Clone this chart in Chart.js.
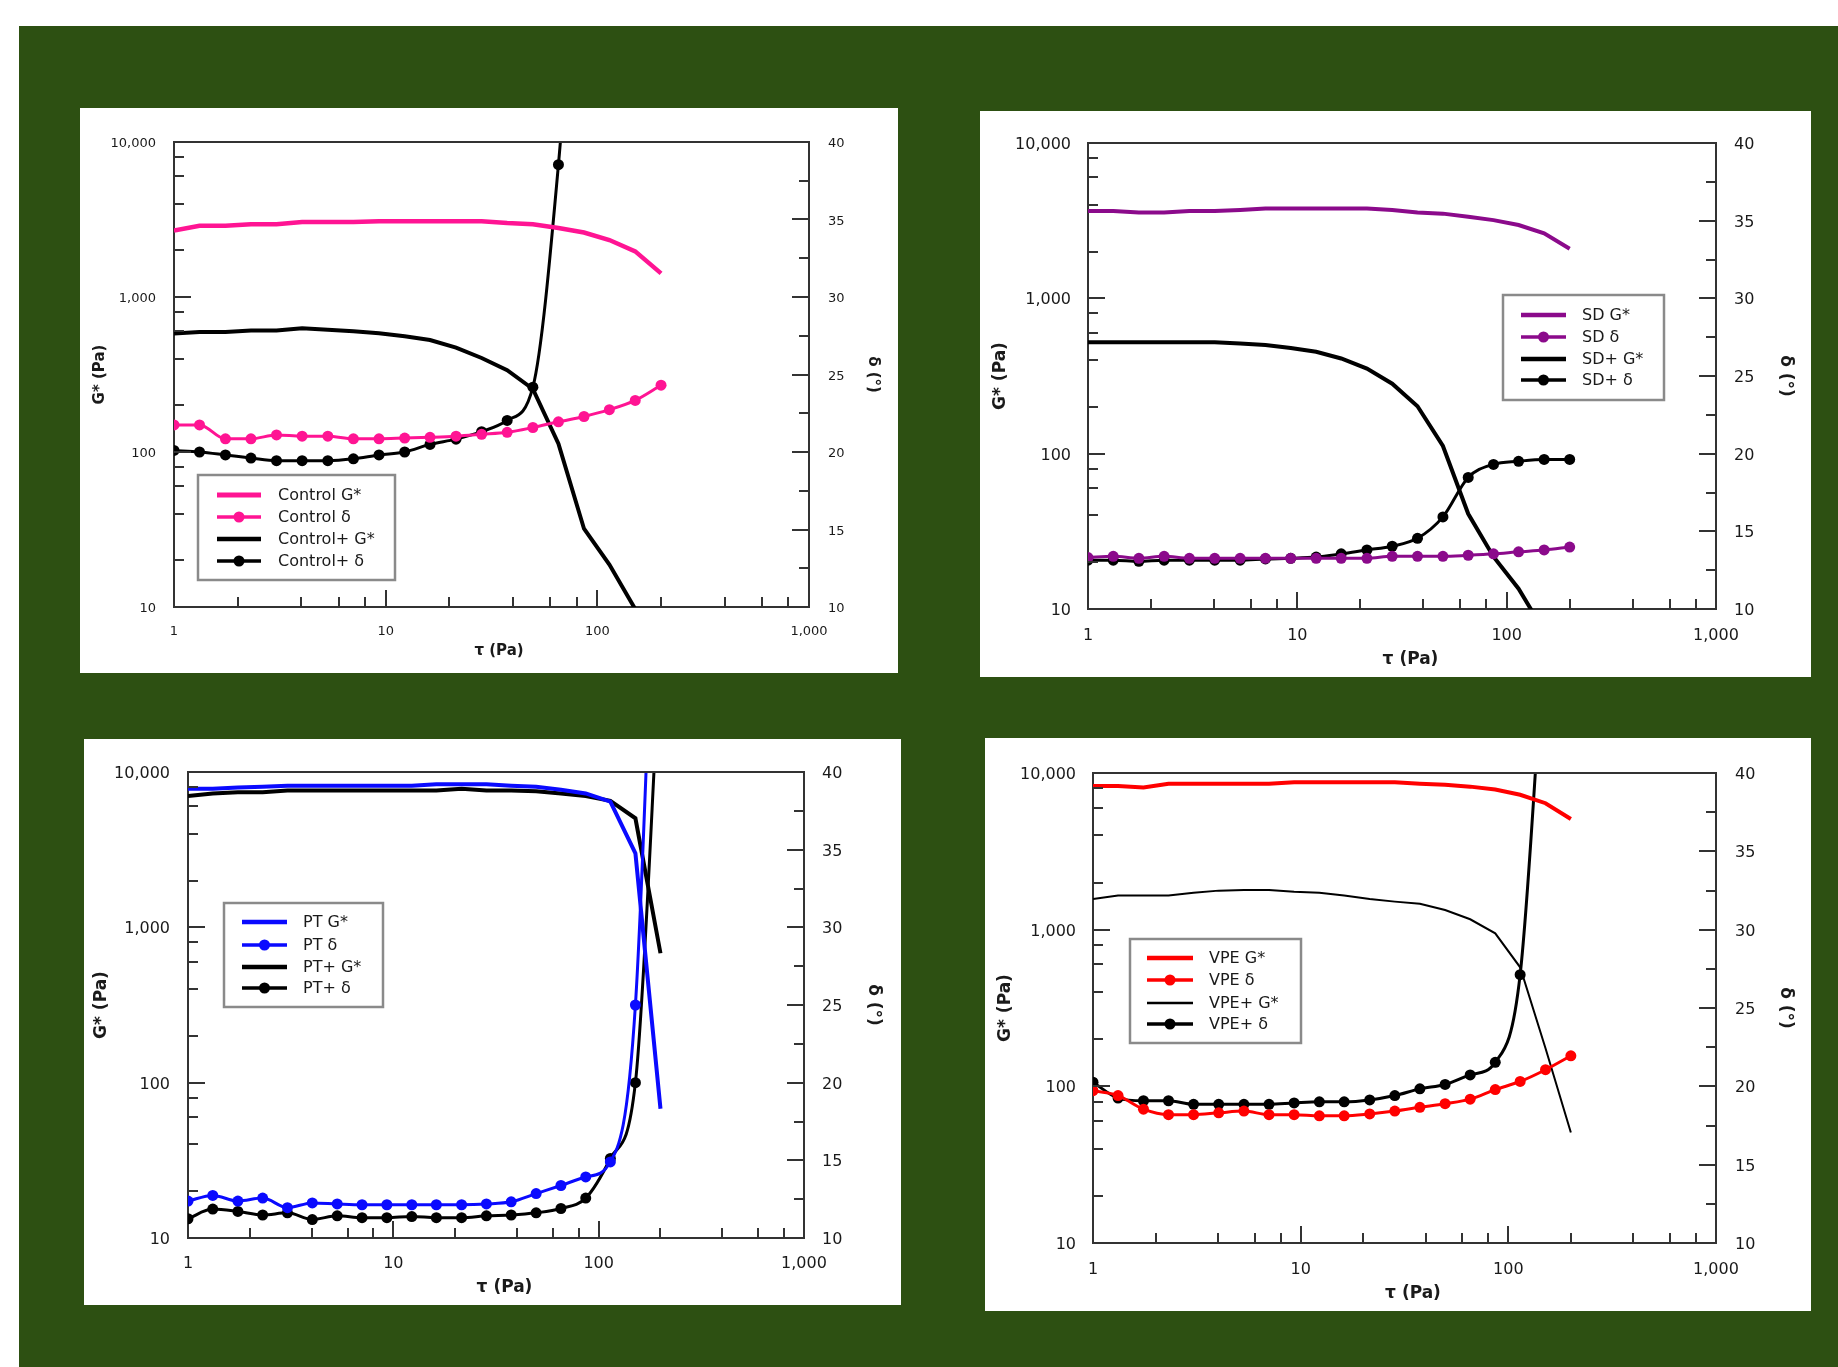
<!DOCTYPE html>
<html>
<head>
<meta charset="utf-8">
<title>G* y delta frente a tau</title>
<script src="https://cdn.jsdelivr.net/npm/chart.js@4.4.0/dist/chart.umd.min.js"></script>
<style>
  html, body { margin: 0; padding: 0; background: #fff; }
  body { width: 1838px; height: 1367px; position: relative; overflow: hidden; }
  #fondo { position: absolute; left: 19px; top: 26px; right: 0; bottom: 0; background: #2d5012; }
  .panel { position: absolute; background: #fff; }
  .panel canvas { display: block; }
</style>
</head>
<body>
<div id="fondo"></div>
<div class="panel" style="left:80px;top:108px;width:818px;height:565px"><canvas id="c1" width="818" height="565"></canvas></div>
<div class="panel" style="left:980px;top:111px;width:831px;height:566px"><canvas id="c2" width="831" height="566"></canvas></div>
<div class="panel" style="left:84px;top:739px;width:817px;height:566px"><canvas id="c3" width="817" height="566"></canvas></div>
<div class="panel" style="left:985px;top:738px;width:826px;height:573px"><canvas id="c4" width="826" height="573"></canvas></div>
<script>
// esfuerzo de corte (Pa), mismo barrido en las cuatro muestras
const tau = [1, 1.32, 1.75, 2.31, 3.05, 4.03, 5.33, 7.04, 9.30, 12.3, 16.2, 21.5, 28.4, 37.5, 49.6, 65.5, 86.5, 114, 151, 200];

const ticksX = [1, 10, 100, 1000];
const ticksG = [10, 100, 1000, 10000];
const ticksDelta = [10, 15, 20, 25, 30, 35, 40];
const menoresLog = [2, 4, 6, 8];
const menoresDelta = [12.5, 17.5, 22.5, 27.5, 32.5, 37.5];

// Control
const controlG = [2680, 2885, 2885, 2950, 2950, 3050, 3050, 3050, 3085, 3085, 3085, 3085, 3085, 3000, 2950, 2790, 2605, 2330, 1970, 1420];
const controlD = [21.75, 21.75, 20.85, 20.85, 21.1, 21.02, 21.02, 20.85, 20.85, 20.9, 20.95, 21.02, 21.14, 21.27, 21.58, 21.95, 22.29, 22.73, 23.33, 24.31];
const controlMasG = [581, 594, 594, 607, 607, 628, 614, 601, 584, 558, 528, 472, 404, 337, 255, 113, 32, 18.8, 9.7, 5];
const controlMasD = [20.1, 20.0, 19.81, 19.61, 19.44, 19.44, 19.44, 19.56, 19.81, 20.0, 20.49, 20.83, 21.31, 22.04, 24.18, 38.54, 61, null, null, null];

// SD
const sdG = [3645, 3645, 3565, 3565, 3645, 3645, 3705, 3790, 3790, 3790, 3790, 3790, 3705, 3565, 3510, 3350, 3188, 2966, 2623, 2088];
const sdD = [13.31, 13.39, 13.26, 13.39, 13.26, 13.26, 13.26, 13.26, 13.26, 13.26, 13.26, 13.26, 13.39, 13.39, 13.39, 13.46, 13.55, 13.68, 13.8, 13.99];
const sdMasG = [521, 521, 521, 521, 521, 521, 512, 501, 479, 453, 410, 353, 282, 202, 112, 41, 21.7, 13.5, 7.2, 4];
const sdMasD = [13.14, 13.14, 13.07, 13.14, 13.14, 13.14, 13.14, 13.22, 13.26, 13.34, 13.55, 13.8, 14.04, 14.55, 15.93, 18.47, 19.31, 19.51, 19.63, 19.63];

// PT
const ptG = [7815, 7815, 7943, 8035, 8166, 8166, 8166, 8166, 8166, 8166, 8340, 8340, 8340, 8166, 8035, 7690, 7280, 6455, 2992, 68];
const ptD = [12.38, 12.74, 12.38, 12.57, 11.95, 12.26, 12.19, 12.14, 12.14, 12.14, 12.14, 12.14, 12.19, 12.33, 12.86, 13.38, 13.93, 14.9, 25.0, 65];
const ptMasG = [7000, 7280, 7400, 7400, 7604, 7604, 7604, 7604, 7604, 7604, 7604, 7815, 7604, 7604, 7516, 7280, 7000, 6515, 5035, 681];
const ptMasD = [11.24, 11.86, 11.71, 11.48, 11.62, 11.19, 11.43, 11.31, 11.31, 11.38, 11.31, 11.31, 11.43, 11.48, 11.62, 11.9, 12.57, 15.12, 20.0, 48];

// VPE
const vpeG = [8273, 8273, 8094, 8545, 8545, 8545, 8545, 8545, 8733, 8733, 8733, 8733, 8733, 8545, 8409, 8184, 7838, 7264, 6414, 5081];
const vpeD = [19.72, 19.41, 18.54, 18.19, 18.19, 18.31, 18.42, 18.19, 18.19, 18.12, 18.12, 18.24, 18.42, 18.66, 18.89, 19.18, 19.79, 20.31, 21.06, 21.95];
const vpeMasG = [1567, 1654, 1654, 1654, 1718, 1775, 1794, 1794, 1747, 1718, 1654, 1567, 1510, 1462, 1334, 1165, 947, 575, 175, 50.8];
const vpeMasD = [20.26, 19.25, 19.08, 19.08, 18.85, 18.85, 18.85, 18.85, 18.94, 19.01, 19.01, 19.13, 19.41, 19.84, 20.12, 20.73, 21.53, 27.13, 50, null];

Chart.defaults.font.family = "'DejaVu Sans', Verdana, sans-serif";
Chart.defaults.color = '#1a1a1a';

const colorEje = '#333';
const formato = v => Number(v).toLocaleString('en-US');

// marcas hacia adentro, borde superior y leyenda con línea + punto
const marcoYLeyenda = {
  id: 'marcoYLeyenda',
  afterDraw(chart, args, o) {
    const ctx = chart.ctx;
    const area = chart.chartArea;
    const sx = chart.scales.x, sy = chart.scales.y, sd = chart.scales.y1;
    ctx.save();
    ctx.strokeStyle = colorEje;
    ctx.lineWidth = 2;
    ctx.beginPath();
    ctx.moveTo(area.left - 1, area.top);
    ctx.lineTo(area.right + 1, area.top);
    ctx.stroke();

    const marca = (escala, v, largo) => {
      const p = Math.round(escala.getPixelForValue(v));
      ctx.beginPath();
      if (escala === sx) { ctx.moveTo(p, area.bottom); ctx.lineTo(p, area.bottom - largo); }
      else if (escala === sy) { ctx.moveTo(area.left, p); ctx.lineTo(area.left + largo, p); }
      else { ctx.moveTo(area.right, p); ctx.lineTo(area.right - largo, p); }
      ctx.stroke();
    };
    ticksX.slice(1, -1).forEach(v => marca(sx, v, 17));
    ticksX.slice(0, -1).forEach(d => menoresLog.forEach(f => marca(sx, d * f, 10)));
    ticksG.slice(1, -1).forEach(v => marca(sy, v, 17));
    ticksG.slice(0, -1).forEach(d => menoresLog.forEach(f => marca(sy, d * f, 10)));
    ticksDelta.slice(1, -1).forEach(v => marca(sd, v, 17));
    menoresDelta.forEach(v => marca(sd, v, 10));

    // leyenda
    const L = o.caja;
    ctx.fillStyle = '#fff';
    ctx.fillRect(L.x, L.y, L.w, L.h);
    ctx.strokeStyle = '#8a8a8a';
    ctx.lineWidth = 2.5;
    ctx.strokeRect(L.x, L.y, L.w, L.h);
    ctx.font = o.fuente + "px 'DejaVu Sans'";
    ctx.textBaseline = 'middle';
    chart.data.datasets.forEach((ds, i) => {
      const y = L.filas[i];
      ctx.strokeStyle = ds.borderColor;
      ctx.lineWidth = ds.borderWidth + 0.5;
      ctx.beginPath();
      ctx.moveTo(L.linea[0], y);
      ctx.lineTo(L.linea[1], y);
      ctx.stroke();
      if (ds.pointRadius > 0) {
        ctx.fillStyle = ds.borderColor;
        ctx.beginPath();
        ctx.arc((L.linea[0] + L.linea[1]) / 2, y, ds.pointRadius, 0, Math.PI * 2);
        ctx.fill();
      }
      ctx.fillStyle = '#1a1a1a';
      ctx.fillText(ds.label, L.texto, y + 1);
    });
    ctx.restore();
  }
};

// G* en tramos rectos, delta suavizado
function serie(label, valores, eje, color, grosor, punto) {
  const d = {
    label: label,
    data: tau.map((t, i) => ({ x: t, y: valores[i] })),
    yAxisID: eje,
    borderColor: color,
    backgroundColor: color,
    borderWidth: grosor,
    pointRadius: punto,
    pointHoverRadius: punto,
    pointBorderWidth: 0,
    pointBackgroundColor: color,
    fill: false
  };
  if (punto > 0) d.cubicInterpolationMode = 'monotone';
  else d.tension = 0;
  return d;
}

function crearPanel(id, p) {
  const ctx = document.getElementById(id).getContext('2d');
  const fTick = { size: p.fTick };
  const fTit = { size: p.fTit, weight: 'bold' };
  return new Chart(ctx, {
    type: 'line',
    data: { datasets: p.series },
    options: {
      responsive: false,
      animation: false,
      devicePixelRatio: 1,
      events: [],
      layout: { padding: { top: p.top, left: 0, right: 0, bottom: 0 } },
      elements: { line: { capBezierPoints: false } },
      plugins: {
        legend: { display: false },
        tooltip: { enabled: false },
        marcoYLeyenda: { caja: p.leyenda, fuente: p.fLey }
      },
      scales: {
        x: {
          type: 'logarithmic', position: 'bottom', min: 1, max: 1000,
          grid: { display: false, drawTicks: false },
          border: { display: true, color: colorEje, width: 2 },
          ticks: { font: fTick, padding: p.padX, autoSkip: false, maxRotation: 0, callback: formato },
          afterBuildTicks: s => { s.ticks = ticksX.map(v => ({ value: v })); },
          afterFit: s => { s.height = p.bottom; },
          title: { display: true, text: '\u2003τ (Pa)', font: fTit, padding: { top: 0, bottom: p.tX } }
        },
        y: {
          type: 'logarithmic', position: 'left', min: 10, max: 10000,
          grid: { display: false, drawTicks: false },
          border: { display: true, color: colorEje, width: 2 },
          ticks: { font: fTick, padding: p.padL, autoSkip: false, labelOffset: 2, callback: formato },
          afterBuildTicks: s => { s.ticks = ticksG.map(v => ({ value: v })); },
          afterFit: s => { s.width = p.left; },
          title: { display: true, text: 'G* (Pa)', font: fTit, padding: { top: p.tL, bottom: 0 } }
        },
        y1: {
          type: 'linear', position: 'right', min: 10, max: 40,
          grid: { display: false, drawTicks: false },
          border: { display: true, color: colorEje, width: 2 },
          ticks: { font: fTick, padding: p.padR, autoSkip: false, labelOffset: 2 },
          afterBuildTicks: s => { s.ticks = ticksDelta.map(v => ({ value: v })); },
          afterFit: s => { s.width = p.right; },
          title: { display: true, text: 'δ (°)', font: fTit, padding: { top: p.tR, bottom: 0 } }
        }
      }
    },
    plugins: [marcoYLeyenda]
  });
}

const rosa = '#ff1493', morado = '#8b0a8b', azul = '#0a0aff', rojo = '#ff0000', negro = '#000';

crearPanel('c1', {
  top: 34, left: 94, right: 89, bottom: 66,
  fTick: 13, fTit: 15, fLey: 16, padX: 17, padL: 18, padR: 19, tX: 12.7, tL: 10.7, tR: 16,
  leyenda: { x: 118, y: 367, w: 197, h: 105, filas: [387, 409, 431, 453], linea: [137, 181], texto: 198 },
  series: [
    serie('Control G*', controlG, 'y', rosa, 4.5, 0),
    serie('Control δ', controlD, 'y1', rosa, 3, 5.5),
    serie('Control+ G*', controlMasG, 'y', negro, 4, 0),
    serie('Control+ δ', controlMasD, 'y1', negro, 3, 5.5)
  ]
});

crearPanel('c2', {
  top: 32, left: 108, right: 95, bottom: 68,
  fTick: 16, fTit: 17, fLey: 16, padX: 17.3, padL: 17, padR: 18, tX: 7.7, tL: 10, tR: 15,
  leyenda: { x: 523, y: 184, w: 161, h: 105, filas: [204, 226, 248, 269], linea: [541, 586], texto: 602 },
  series: [
    serie('SD G*', sdG, 'y', morado, 4, 0),
    serie('SD δ', sdD, 'y1', morado, 3, 5.5),
    serie('SD+ G*', sdMasG, 'y', negro, 4, 0),
    serie('SD+ δ', sdMasD, 'y1', negro, 3, 5.5)
  ]
});

crearPanel('c3', {
  top: 33, left: 104, right: 97, bottom: 67,
  fTick: 16, fTit: 17, fLey: 16, padX: 16.3, padL: 18, padR: 18, tX: 7.7, tL: 7, tR: 17.5,
  leyenda: { x: 140, y: 164, w: 159, h: 104, filas: [183, 206, 228, 249], linea: [158, 203], texto: 219 },
  series: [
    serie('PT G*', ptG, 'y', azul, 4, 0),
    serie('PT δ', ptD, 'y1', azul, 3, 5.5),
    serie('PT+ G*', ptMasG, 'y', negro, 4, 0),
    serie('PT+ δ', ptMasD, 'y1', negro, 3, 5.5)
  ]
});

crearPanel('c4', {
  top: 35, left: 108, right: 95, bottom: 68,
  fTick: 16, fTit: 17, fLey: 16, padX: 17.3, padL: 17, padR: 19, tX: 7.7, tL: 10.3, tR: 15,
  leyenda: { x: 145, y: 201, w: 171, h: 104, filas: [220, 242, 265, 286], linea: [162, 208], texto: 224 },
  series: [
    serie('VPE G*', vpeG, 'y', rojo, 4, 0),
    serie('VPE δ', vpeD, 'y1', rojo, 3, 5.5),
    serie('VPE+ G*', vpeMasG, 'y', negro, 2, 0),
    serie('VPE+ δ', vpeMasD, 'y1', negro, 3, 5.5)
  ]
});
</script>
</body>
</html>
